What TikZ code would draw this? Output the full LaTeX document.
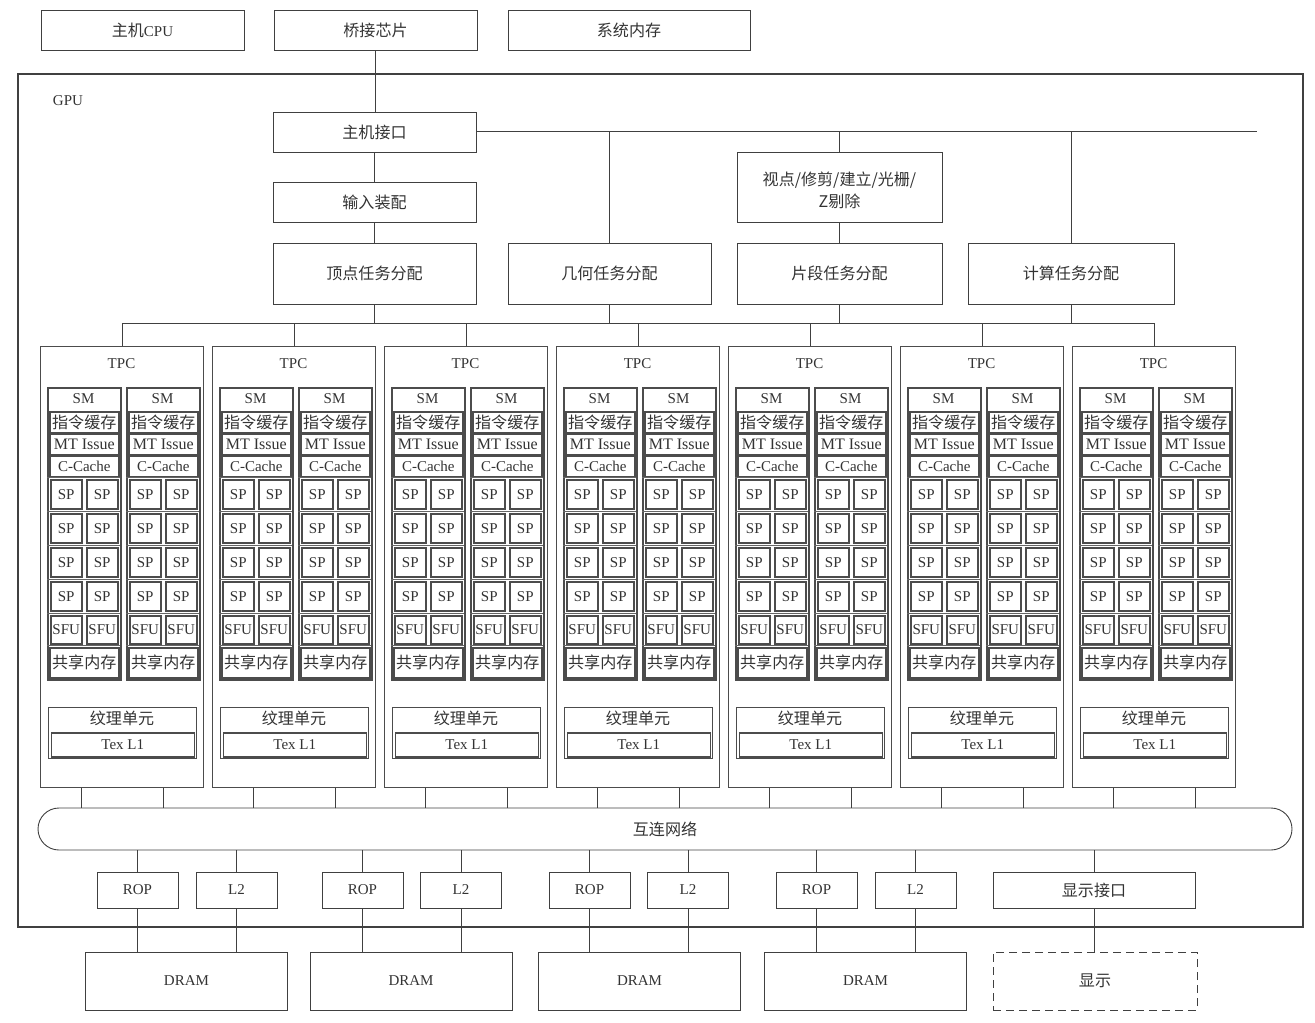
\documentclass[tikz,border=0pt]{standalone}
\usepackage{fontspec}
\setmainfont{Liberation Serif}
\newfontfamily\cjk[Scale=1.07]{Noto Sans CJK SC}
\usepackage{tikz}
\usetikzlibrary{positioning}

\tikzset{
  blk/.style={draw=black!75, line width=0.9pt, minimum width=203pt, minimum height=40pt},
  smcol/.style={draw=black!70, line width=1.8pt, minimum width=73pt, minimum height=292pt, anchor=north west},
  cell/.style={draw=black!70, line width=1.5pt, fill=white, anchor=north west},
  wire/.style={draw=black!75, line width=0.9pt},
}

\begin{document}
\begin{tikzpicture}[x=1pt,y=-1pt,font=\fontsize{15}{18}\selectfont,text=black!80]
    \tikzstyle{every node}+=[inner sep=0pt]
    \useasboundingbox (0,0) rectangle (1315,1023);
    % host side
    \node[blk] (cpu) at (142.5,30) {{\cjk 主机}CPU};
    \node[blk] (bridge) at (375.5,30) {\cjk 桥接芯片};
    \node[blk, minimum width=242pt] (sysmem) at (629,30) {\cjk 系统内存};
    % GPU frame
    \node[draw=black!75, line width=1.8pt, minimum width=1285pt, minimum height=853pt] (gpu) at (660.5,500.5) {};
    \node (gpulbl) at (68,101) {GPU};
    % front end
    \node[blk] (hostif) at (374.5,132) {\cjk 主机接口};
    \node[blk] (input) at (374.5,202) {\cjk 输入装配};
    \node[blk, minimum height=61pt] (vtx) at (374.5,273.5) {\cjk 顶点任务分配};
    \node[blk, minimum height=61pt] (geo) at (609.5,273.5) {\cjk 几何任务分配};
    \node[blk, minimum width=205pt, minimum height=70pt] (raster) at (839.5,187) {};
    \node[align=center] (rasterlbl) at (839.5,190) {\cjk 视点/修剪/建立/光栅/\\[4pt]\cjk Z剔除};
    \node[blk, minimum width=205pt, minimum height=61pt] (frag) at (839.5,273.5) {\cjk 片段任务分配};
    \node[blk, minimum width=206pt, minimum height=61pt] (comp) at (1071,273.5) {\cjk 计算任务分配};
    \coordinate (busend) at (1257,131);
    \coordinate (dist) at (0,323);
    \draw[wire] (bridge.south) -- (bridge.south |- hostif.north);
    \draw[wire] (hostif.east |- busend) -- (busend);
    \draw[wire] (hostif.south) -- (input.north);
    \draw[wire] (input.south) -- (vtx.north);
    \draw[wire] (geo.north) -- (geo.north |- busend);
    \draw[wire] (raster.north) -- (raster.north |- busend);
    \draw[wire] (raster.south) -- (frag.north);
    \draw[wire] (comp.north) -- (comp.north |- busend);
    % TPC array
    \foreach \i in {0,...,6} {
        \pgfmathsetmacro\tx{40+172*\i}
        \node[draw=black!70, line width=0.9pt, minimum width=163pt, minimum height=441pt, anchor=north west] (tpc\i) at (\tx,346) {};
        \node (tpclbl\i) at (\tx+81.5,364) {TPC};
        \foreach \j in {0,1} {
            \pgfmathsetmacro\cx{\tx+7+79*\j}
            \node[smcol] (sm\i\j) at (\cx,387) {};
            \node (smlbl\i\j) at (\cx+36.5,399) {SM};
            \node[cell, minimum width=69pt, minimum height=21pt] (icache\i\j) at (\cx+2,411) {\cjk 指令缓存};
            \node[cell, minimum width=69pt, minimum height=21pt, font=\fontsize{16}{18}\selectfont] (issue\i\j) at (\cx+2,433) {MT Issue};
            \node[cell, minimum width=69pt, minimum height=21pt] (ccache\i\j) at (\cx+2,455) {C-Cache};
            \foreach \r/\ry in {1/479,2/513,3/547,4/581} {
                \draw[black!60, line width=1pt] (\cx,\ry-2) -- (\cx+73,\ry-2);
                \node[cell, minimum width=31pt, minimum height=29pt] (sp\i\j\r-a) at (\cx+3,\ry) {SP};
                \node[cell, minimum width=31pt, minimum height=29pt] (sp\i\j\r-b) at (\cx+39,\ry) {SP};
            }
            \draw[black!60, line width=1pt] (\cx,613) -- (\cx+73,613);
            \node[cell, minimum width=31pt, minimum height=28pt] (sfu\i\j-a) at (\cx+3,615) {SFU};
            \node[cell, minimum width=31pt, minimum height=28pt] (sfu\i\j-b) at (\cx+39,615) {SFU};
            \draw[black!60, line width=1pt] (\cx,645.5) -- (\cx+73,645.5);
            \node[cell, minimum width=69pt, minimum height=30pt] (smem\i\j) at (\cx+2,647) {\cjk 共享内存};
        }
        \node[draw=black!70, line width=1.3pt, minimum width=148pt, minimum height=51pt, anchor=north west] (tex\i) at (\tx+8,707) {};
        \node (texlbl\i) at (\tx+82,718) {\cjk 纹理单元};
        \node[cell, minimum width=143pt, minimum height=24pt] (texl\i) at (\tx+10.5,732) {Tex L1};
        \draw[wire] (tpc\i.north) -- (tpc\i.north |- dist);
    }
    \draw[wire] (tpc0.north |- dist) -- (tpc6.north |- dist);
    \foreach \d in {vtx,geo,frag,comp}
        \draw[wire] (\d.south) -- (\d.south |- dist);
    % interconnect
    \node[draw=black!75, line width=0.9pt, rounded corners=21pt, minimum width=1254pt, minimum height=42pt] (net) at (665,829) {\cjk 互连网络};
    \foreach \i in {0,...,6} {
        \draw[wire] ([xshift=-41pt]tpc\i.south) -- ([xshift=-41pt]tpc\i.south |- net.north);
        \draw[wire] ([xshift=41pt]tpc\i.south) -- ([xshift=41pt]tpc\i.south |- net.north);
    }
    % memory partitions
    \foreach \k/\rx/\lx/\dx in {1/137.5/236.5/186.5, 2/362.5/461/411, 3/589.5/688/639.5, 4/816.5/915.5/865.5} {
        \node[blk, minimum width=81pt, minimum height=36pt] (rop\k) at (\rx,890) {ROP};
        \node[blk, minimum width=81pt, minimum height=36pt] (ltwo\k) at (\lx,890) {L2};
        \node[blk, minimum width=202pt, minimum height=58pt] (dram\k) at (\dx,981) {DRAM};
        \draw[wire] (rop\k.north) -- (rop\k.north |- net.south);
        \draw[wire] (ltwo\k.north) -- (ltwo\k.north |- net.south);
        \draw[wire] (rop\k.south) -- (rop\k.south |- dram\k.north);
        \draw[wire] (ltwo\k.south) -- (ltwo\k.south |- dram\k.north);
    }
    \node[blk, minimum width=202pt, minimum height=36pt] (dispif) at (1094,890) {\cjk 显示接口};
    \node[blk, dashed, dash pattern=on 8pt off 5pt, minimum width=204pt, minimum height=58pt] (disp) at (1095,981) {\cjk 显示};
    \draw[wire] (dispif.north) -- (dispif.north |- net.south);
    \draw[wire] (dispif.south) -- (dispif.south |- disp.north);
\end{tikzpicture}
\end{document}
